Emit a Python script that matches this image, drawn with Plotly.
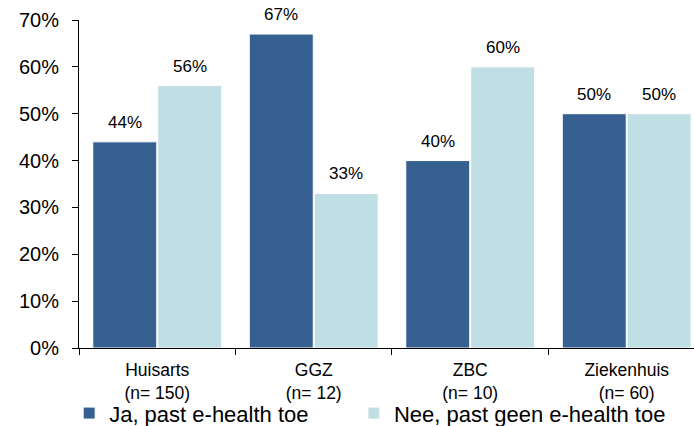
import plotly.graph_objects as go

categories = ["Huisarts<br>(n= 150)", "GGZ<br>(n= 12)", "ZBC<br>(n= 10)", "Ziekenhuis<br>(n= 60)"]
ja_values = [0.44, 0.67, 0.40, 0.50]
nee_values = [0.56, 0.33, 0.60, 0.50]
series_names = ["Ja, past e-health toe", "Nee, past geen e-health toe"]
y_ticks = [0, 0.1, 0.2, 0.3, 0.4, 0.5, 0.6, 0.7]

DARK = "#36608F"
LIGHT = "#C0DFE4"
FONT = "Liberation Sans, Arial, sans-serif"
BARGAP = 0.17
GROUPGAP = 0.015

fig = go.Figure()
for name, vals, col, lg in [(series_names[0], ja_values, DARK, "legend"),
                            (series_names[1], nee_values, LIGHT, "legend2")]:
    fig.add_trace(go.Bar(
        x=categories, y=vals, name=name, legend=lg,
        marker=dict(color=col, line=dict(color="white", width=1)),
    ))

slot = (1 - BARGAP) / 2
annotations = []
for si, vals in enumerate([ja_values, nee_values]):
    off = -slot / 2 if si == 0 else slot / 2
    for ci, v in enumerate(vals):
        annotations.append(dict(
            x=ci + off, y=v, xref="x", yref="y",
            text=f"{round(v*100)}%", showarrow=False,
            yanchor="bottom", yshift=8,
            font=dict(family=FONT, size=17, color="black"),
        ))

legend_common = dict(
    orientation="h", xanchor="left", y=-0.135, yanchor="top",
    font=dict(family=FONT, size=22, color="black"),
    itemwidth=30, bgcolor="rgba(0,0,0,0)",
)

fig.update_layout(
    width=694, height=426,
    margin=dict(l=79, r=0, t=20, b=78, autoexpand=False),
    paper_bgcolor="white", plot_bgcolor="white",
    barmode="group", bargap=BARGAP, bargroupgap=GROUPGAP,
    font=dict(family=FONT, color="black"),
    annotations=annotations,
    showlegend=True,
    legend=dict(x=-0.016, **legend_common),
    legend2=dict(x=0.447, **legend_common),
    xaxis=dict(
        type="category", range=[-0.5, 3.43], automargin=False,
        showline=True, linecolor="black", linewidth=1,
        ticks="outside", tickson="boundaries", ticklen=6, tickcolor="black",
        tickfont=dict(family=FONT, size=17.5, color="black"),
        ticklabelstandoff=6,
        showgrid=False, fixedrange=True,
    ),
    yaxis=dict(
        range=[0, 0.70], tickvals=y_ticks, tickformat=".0%", automargin=False,
        showline=True, linecolor="black", linewidth=1,
        ticks="outside", ticklen=6, tickcolor="black",
        tickfont=dict(family=FONT, size=20, color="black"),
        ticklabelstandoff=9,
        showgrid=False, zeroline=False,
    ),
)

fig.write_html("out.html", config={"displayModeBar": False},
               post_script="document.body.style.margin='0px';")
